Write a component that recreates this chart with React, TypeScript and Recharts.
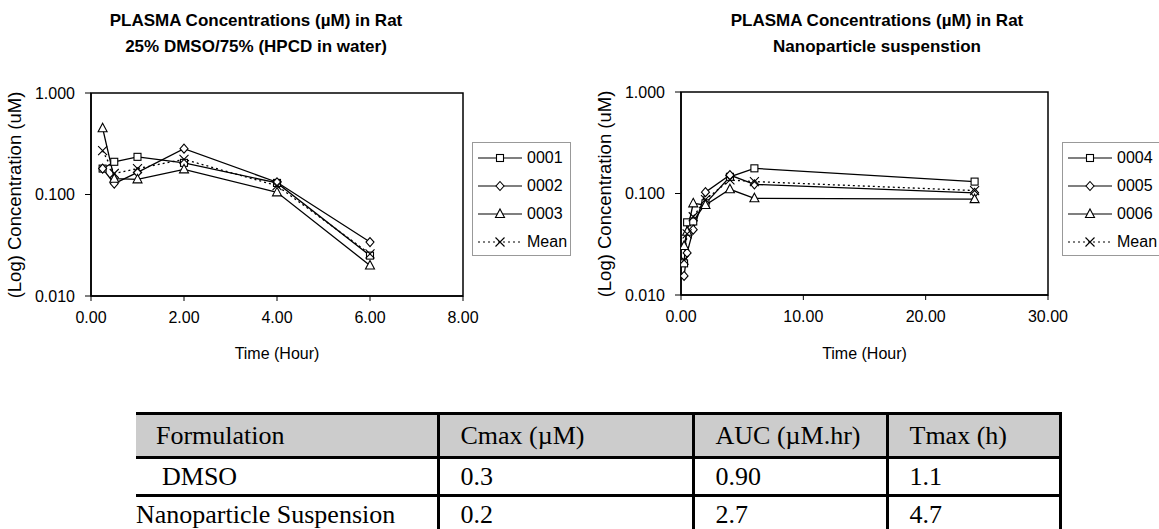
import React from 'react';
import { LineChart, Line, XAxis, YAxis, ReferenceArea } from 'recharts';

// ─── Data ───────────────────────────────────────────────
const DMSO_TIMES = [0.25, 0.5, 1, 2, 4, 6];
const RAT_0001 = [0.18, 0.21, 0.235, 0.205, 0.13, 0.025];
const RAT_0002 = [0.18, 0.128, 0.165, 0.283, 0.132, 0.034];
const RAT_0003 = [0.45, 0.143, 0.141, 0.177, 0.105, 0.02];
const DMSO_MEAN = [0.27, 0.161, 0.18, 0.222, 0.122, 0.026];

const NANO_TIMES = [0.25, 0.5, 1, 2, 4, 6, 24];
const RAT_0004 = [0.0205, 0.052, 0.053, 0.08, 0.146, 0.177, 0.131];
const RAT_0005 = [0.0154, 0.026, 0.044, 0.103, 0.152, 0.123, 0.1016];
const RAT_0006 = [0.0304, 0.042, 0.08, 0.077, 0.11, 0.0897, 0.088];
const NANO_MEAN = [0.0221, 0.04, 0.059, 0.087, 0.136, 0.131, 0.107];

const Y_TICKS = [0.01, 0.1, 1];
const DMSO_X_TICKS = [0, 2, 4, 6, 8];
const NANO_X_TICKS = [0, 10, 20, 30];

const TABLE_HEAD = ['Formulation', 'Cmax (\u00b5M)', 'AUC (\u00b5M.hr)', 'Tmax (h)'];
const TABLE_ROWS = [
  ['DMSO', '0.3', '0.90', '1.1'],
  ['Nanoparticle Suspension', '0.2', '2.7', '4.7'],
];

const SANS = '"Liberation Sans", Arial, sans-serif';
const SERIF = '"Liberation Serif", "Times New Roman", serif';
const CHART_H = 370;

type Shape = 'square' | 'diamond' | 'triangle' | 'cross';

function Marker({ cx, cy, shape }: { cx: number; cy: number; shape: Shape }) {
  const common = { fill: '#fff', stroke: '#000', strokeWidth: 1.1 };
  if (shape === 'square') return <rect x={cx - 3.5} y={cy - 3.5} width={7} height={7} {...common} />;
  if (shape === 'diamond')
    return <polygon points={`${cx},${cy - 4.5} ${cx + 4},${cy} ${cx},${cy + 4.5} ${cx - 4},${cy}`} {...common} />;
  if (shape === 'triangle')
    return <polygon points={`${cx},${cy - 5} ${cx + 4.5},${cy + 3.5} ${cx - 4.5},${cy + 3.5}`} {...common} />;
  return (
    <path d={`M${cx - 4.5},${cy - 4.5}L${cx + 4.5},${cy + 4.5}M${cx + 4.5},${cy - 4.5}L${cx - 4.5},${cy + 4.5}`}
      stroke="#000" strokeWidth={1.1} fill="none" />
  );
}

const dotFor = (shape: Shape) => (props: any) => {
  const { cx, cy, index } = props;
  if (cx == null || cy == null) return <g key={index} />;
  return <g key={index}><Marker cx={cx} cy={cy} shape={shape} /></g>;
};

interface SeriesDef { key: string; name: string; shape: Shape; dashed?: boolean }

function LegendBox({ series, left, top }: { series: SeriesDef[]; left: number; top: number }) {
  return (
    <div style={{ position: 'absolute', left, top, width: 99, height: 114, border: '1px solid #999',
      background: '#fff', boxSizing: 'border-box', paddingTop: 1 }}>
      {series.map((s) => (
        <div key={s.key} style={{ height: 28, display: 'flex', alignItems: 'center' }}>
          <svg width={52} height={14} style={{ marginLeft: 2 }}>
            <line x1={3} y1={7} x2={47} y2={7} stroke="#000" strokeWidth={1.2} strokeDasharray={s.dashed ? '2 3' : undefined} />
            <Marker cx={25} cy={7} shape={s.shape} />
          </svg>
          <span style={{ fontFamily: SANS, fontSize: 16, color: '#000' }}>{s.name}</span>
        </div>
      ))}
    </div>
  );
}

interface PkChartProps {
  left: number;
  width: number;
  title: string[];
  titleCenter: number;
  times: number[];
  series: { def: SeriesDef; values: number[] }[];
  xMax: number;
  xTicks: number[];
  plot: { left: number; right: number; top: number; bottom: number };
  legendLeft: number;
}

// plot box given in page pixels; margins are derived from it
function PkChart({ left, width, title, titleCenter, times, series, xMax, xTicks, plot, legendLeft }: PkChartProps) {
  const data = times.map((t, i) => {
    const row: Record<string, number> = { t };
    series.forEach((s) => { row[s.def.key] = s.values[i]; });
    return row;
  });
  const yAxisW = 80;
  const xAxisH = 60;
  const margin = {
    top: plot.top,
    left: plot.left - left - yAxisW,
    right: left + width - plot.right,
    bottom: CHART_H - plot.bottom - xAxisH,
  };
  const plotMid = (plot.top + plot.bottom) / 2;
  return (
    <div style={{ position: 'absolute', left, top: 0, width, height: CHART_H }}>
      {title.map((line, i) => (
        <div key={i} style={{ position: 'absolute', left: titleCenter - left - 200, width: 400, top: 10 + i * 26,
          textAlign: 'center', fontFamily: SANS, fontWeight: 'bold', fontSize: 17, lineHeight: '22px' }}>{line}</div>
      ))}
      <LineChart width={width} height={CHART_H} data={data} margin={margin}>
        <XAxis dataKey="t" type="number" domain={[0, xMax]} ticks={xTicks} allowDataOverflow
          tickFormatter={(v: number) => v.toFixed(2)} height={xAxisH} tickSize={5} tickMargin={11}
          tick={{ fill: '#000', fontSize: 16, fontFamily: SANS }} tickLine={{ stroke: '#000' }}
          axisLine={{ stroke: '#000', strokeWidth: 1.5 }} />
        <YAxis type="number" scale="log" domain={[0.01, 1]} ticks={Y_TICKS} allowDataOverflow width={yAxisW}
          tickFormatter={(v: number) => v.toFixed(3)} tickSize={6} tickMargin={10}
          tick={{ fill: '#000', fontSize: 16, fontFamily: SANS }} tickLine={{ stroke: '#000' }}
          axisLine={{ stroke: '#000', strokeWidth: 1.5 }} />
        <ReferenceArea x1={0} x2={xMax} y1={0.01} y2={1} fill="none" stroke="#000" strokeWidth={1.5} ifOverflow="visible" />
        {series.map((s) => (
          <Line key={s.def.key} dataKey={s.def.key} name={s.def.name} stroke="#000" strokeWidth={1.3}
            strokeDasharray={s.def.dashed ? '2 3' : undefined} dot={dotFor(s.def.shape)} activeDot={false}
            isAnimationActive={false} />
        ))}
      </LineChart>
      <div style={{ position: 'absolute', left: plot.left - left - 76 - 120, top: plotMid - 12, width: 240, height: 24,
        transform: 'rotate(-90deg)', textAlign: 'center', fontFamily: SANS, fontSize: 18.5, lineHeight: '24px' }}>
        (Log) Concentration (uM)
      </div>
      <div style={{ position: 'absolute', left: (plot.left + plot.right) / 2 - left - 100, width: 200, top: 343,
        textAlign: 'center', fontFamily: SANS, fontSize: 16, lineHeight: '22px' }}>Time (Hour)</div>
      <LegendBox series={series.map((s) => s.def)} left={legendLeft - left} top={142} />
    </div>
  );
}

function ResultTable() {
  const widths = [302, 255, 194, 173];
  const heights = [44, 38, 38];
  const cell = (i: number, r: number): React.CSSProperties => ({
    width: widths[i], height: heights[r], boxSizing: 'border-box', padding: 0,
    paddingLeft: i === 0 ? (r === 2 ? 0 : r === 1 ? 26 : 20) : 21,
    borderTop: '3px solid #000', borderRight: '3px solid #000', borderLeft: 'none',
    fontFamily: SERIF, fontSize: 26, fontWeight: 'normal', textAlign: 'left',
    whiteSpace: 'nowrap', verticalAlign: 'middle', lineHeight: '28px', color: '#000',
  });
  return (
    <table style={{ position: 'absolute', left: 136, top: 412, borderCollapse: 'collapse', tableLayout: 'fixed' }}>
      <thead>
        <tr style={{ background: '#cccccc' }}>
          {TABLE_HEAD.map((h, i) => <th key={h} style={cell(i, 0)}>{h}</th>)}
        </tr>
      </thead>
      <tbody>
        {TABLE_ROWS.map((row, r) => (
          <tr key={row[0]}>
            {row.map((v, i) => <td key={i} style={cell(i, r + 1)}>{v}</td>)}
          </tr>
        ))}
      </tbody>
    </table>
  );
}

export default function App() {
  return (
    <div style={{ position: 'absolute', left: 0, top: 0, width: 1159, height: 529, background: '#fff', overflow: 'hidden' }}>
      <PkChart left={0} width={580} title={['PLASMA Concentrations (\u00b5M) in Rat', '25% DMSO/75% (HPCD in water)']}
        titleCenter={256} times={DMSO_TIMES} xMax={8} xTicks={DMSO_X_TICKS}
        plot={{ left: 91, right: 463, top: 93, bottom: 296 }} legendLeft={472}
        series={[
          { def: { key: 'r1', name: '0001', shape: 'square' }, values: RAT_0001 },
          { def: { key: 'r2', name: '0002', shape: 'diamond' }, values: RAT_0002 },
          { def: { key: 'r3', name: '0003', shape: 'triangle' }, values: RAT_0003 },
          { def: { key: 'm', name: 'Mean', shape: 'cross', dashed: true }, values: DMSO_MEAN },
        ]} />
      <PkChart left={580} width={579} title={['PLASMA Concentrations (\u00b5M) in Rat', 'Nanoparticle suspenstion']}
        titleCenter={877} times={NANO_TIMES} xMax={30} xTicks={NANO_X_TICKS}
        plot={{ left: 681, right: 1048, top: 92, bottom: 295 }} legendLeft={1062}
        series={[
          { def: { key: 'r4', name: '0004', shape: 'square' }, values: RAT_0004 },
          { def: { key: 'r5', name: '0005', shape: 'diamond' }, values: RAT_0005 },
          { def: { key: 'r6', name: '0006', shape: 'triangle' }, values: RAT_0006 },
          { def: { key: 'm', name: 'Mean', shape: 'cross', dashed: true }, values: NANO_MEAN },
        ]} />
      <ResultTable />
    </div>
  );
}
